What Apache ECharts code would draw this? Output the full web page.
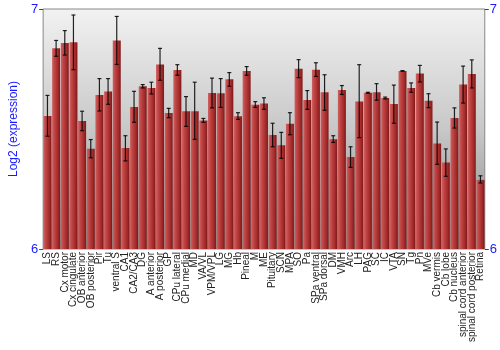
<!DOCTYPE html>
<html>
<head>
<meta charset="utf-8">
<script src="https://cdn.jsdelivr.net/npm/echarts@6/dist/echarts.min.js"></script>
<style>html,body{margin:0;padding:0;background:#fff}#c{width:500px;height:350px}</style>
</head>
<body>
<div id="c"></div>
<script>
const categories = ["LS","RS","Cx motor","Cx cingulate","OB anterior","OB posterior","Pir","Tu","ventral S","CA1","CA2/CA3","DG","A anterior","A posterior","GP","CPu lateral","CPu medial","MD","VA/VL","VPM/VPL","LG","MG","Hb","Pineal","M","ME","Pituitary","SCN","MPA","SO","Pa","SPa ventral","SPa dorsal","DM","VMH","Arc","LH","PAG","SC","IC","VTA","SN","Tg","Pn","MVe","Cb vermis","Cb lobe","Cb nucleus","spinal cord anterior","spinal cord posterior","Retina"];
const means = [6.554,6.836,6.858,6.861,6.533,6.418,6.642,6.656,6.869,6.421,6.592,6.678,6.671,6.769,6.567,6.746,6.574,6.574,6.535,6.650,6.649,6.707,6.553,6.742,6.601,6.606,6.475,6.432,6.522,6.751,6.621,6.747,6.653,6.457,6.662,6.383,6.615,6.651,6.653,6.629,6.604,6.742,6.671,6.731,6.618,6.440,6.360,6.546,6.685,6.729,6.288];
const errHigh = [6.640,6.869,6.910,6.975,6.574,6.456,6.710,6.710,6.969,6.472,6.657,6.685,6.695,6.836,6.586,6.768,6.635,6.695,6.544,6.712,6.710,6.735,6.568,6.760,6.614,6.630,6.524,6.486,6.568,6.789,6.660,6.776,6.726,6.472,6.681,6.426,6.768,6.653,6.689,6.633,6.683,6.743,6.692,6.765,6.647,6.529,6.417,6.588,6.762,6.788,6.305];
const errLow = [6.470,6.803,6.808,6.747,6.493,6.380,6.575,6.603,6.769,6.367,6.528,6.671,6.646,6.703,6.547,6.724,6.511,6.457,6.528,6.588,6.590,6.678,6.540,6.724,6.590,6.582,6.426,6.378,6.476,6.714,6.582,6.719,6.578,6.444,6.644,6.340,6.464,6.649,6.620,6.625,6.524,6.741,6.653,6.696,6.589,6.353,6.303,6.504,6.608,6.671,6.275];
const yTicks = [6, 7];

const chart = echarts.init(document.getElementById('c'), null, {renderer: 'canvas'});
const errData = categories.map((c, i) => [i, errLow[i], errHigh[i]]);
const blue = '#1a1aff';
const yAxisCommon = {
  type: 'value', min: yTicks[0], max: yTicks[1], interval: 1,
  axisLine: {show: false},
  axisTick: {show: true, length: 4, lineStyle: {color: '#444'}},
  splitLine: {show: false},
  axisLabel: {color: blue, fontSize: 13, fontFamily: 'Liberation Sans, Arial, sans-serif', margin: 5}
};
chart.setOption({
  animation: false,
  grid: {
    left: 27, right: 14, top: 9, bottom: 101,
    show: true, borderColor: '#888', borderWidth: 1,
    backgroundColor: new echarts.graphic.LinearGradient(0, 0, 0, 1, [
      {offset: 0, color: '#f2f2f2'},
      {offset: 0.5, color: '#c8c8c8'},
      {offset: 1, color: '#858585'}
    ])
  },
  xAxis: {
    type: 'category', data: categories,
    axisLine: {show: false}, axisTick: {show: false},
    axisLabel: {interval: 0, rotate: 90, fontSize: 10, color: '#222', margin: 3,
      fontFamily: 'Liberation Sans, Arial, sans-serif'}
  },
  yAxis: [
    Object.assign({}, yAxisCommon, {position: 'left', name: 'Log2 (expression)', nameLocation: 'middle', nameGap: 15,
      nameTextStyle: {color: blue, fontSize: 12, fontFamily: 'Liberation Sans, Arial, sans-serif'}}),
    Object.assign({}, yAxisCommon, {position: 'right'})
  ],
  series: [
    {
      type: 'bar', data: means, barWidth: 8,
      itemStyle: {
        color: new echarts.graphic.LinearGradient(0, 0, 1, 0, [
          {offset: 0, color: '#cf6262'},
          {offset: 0.3, color: '#c04444'},
          {offset: 0.7, color: '#a52c2c'},
          {offset: 1, color: '#7c1818'}
        ])
      }
    },
    {
      type: 'custom', data: errData, z: 5,
      renderItem: function (params, api) {
        const x = api.coord([api.value(0), api.value(1)])[0];
        const yl = api.coord([api.value(0), api.value(1)])[1];
        const yh = api.coord([api.value(0), api.value(2)])[1];
        const cw = 2;
        const st = {stroke: '#000', lineWidth: 1.2, opacity: 0.85};
        return {type: 'group', children: [
          {type: 'line', shape: {x1: x, y1: yh, x2: x, y2: yl}, style: st},
          {type: 'line', shape: {x1: x - cw, y1: yh, x2: x + cw, y2: yh}, style: st},
          {type: 'line', shape: {x1: x - cw, y1: yl, x2: x + cw, y2: yl}, style: st}
        ]};
      }
    }
  ]
});
</script>
</body>
</html>
